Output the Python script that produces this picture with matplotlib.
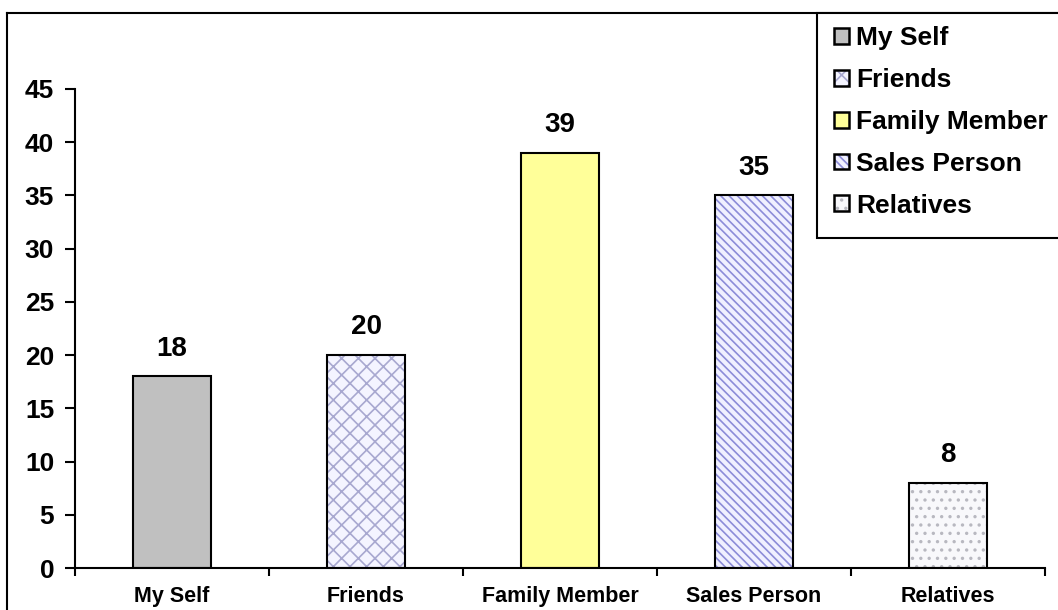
import matplotlib.pyplot as plt
from matplotlib.patches import Patch, Rectangle
from matplotlib.lines import Line2D

plt.rcParams['font.family'] = ['Liberation Sans', 'DejaVu Sans']
plt.rcParams['font.weight'] = 'bold'
plt.rcParams['hatch.linewidth'] = 1.2

# data
categories = ['My Self', 'Friends', 'Family Member', 'Sales Person', 'Relatives']
values = [18, 20, 39, 35, 8]
yticks = [0, 5, 10, 15, 20, 25, 30, 35, 40, 45]

# styles per bar
faces = ['#c0c0c0', '#f4f4ff', '#ffff99', '#f0f0ff', '#f8f8fb']
hatches = [None, 'xx', None, '\\\\\\\\', '..']
hatch_cols = ['#c0c0c0', '#a8a8d0', '#ffff99', '#8c8cd8', '#b8b8c0']

fig = plt.figure(figsize=(10.58, 6.10), dpi=100)
ax = fig.add_axes([75 / 1058, 1 - 568 / 610, 970 / 1058, 479 / 610])

x = list(range(len(categories)))
for i in x:
    ax.bar(i, values[i], width=0.4, color=faces[i], hatch=hatches[i],
           edgecolor=hatch_cols[i], linewidth=0, zorder=2)
ax.bar(x, values, width=0.4, fill=False, edgecolor='black', linewidth=1.5, zorder=3)

for i in x:
    ax.annotate(str(values[i]), (i, values[i]), xytext=(0, 15), textcoords='offset points',
                ha='center', va='baseline', fontsize=20, fontweight='bold')

ax.set_xlim(-0.5, len(categories) - 0.5)
ax.set_ylim(0, 45)
ax.set_yticks(yticks)
ax.tick_params(axis='y', direction='out', length=7, width=1.5, labelsize=19, pad=8)

# category boundaries as major ticks, labels on minor ticks
ax.set_xticks([i - 0.5 for i in range(len(categories) + 1)])
ax.set_xticklabels([])
ax.set_xticks(x, minor=True)
ax.set_xticklabels(categories, minor=True, fontsize=15.5, fontweight='bold')
ax.tick_params(axis='x', which='major', direction='out', length=6, width=1.5)
ax.tick_params(axis='x', which='minor', length=0, pad=13)

for s in ['top', 'right']:
    ax.spines[s].set_visible(False)
for s in ['left', 'bottom']:
    ax.spines[s].set_linewidth(1.5)

# outer chart border (left and top visible)
fig.add_artist(Line2D([7 / 1058, 7 / 1058], [0, 1 - 13 / 610], transform=fig.transFigure,
                      color='black', linewidth=1.5))
fig.add_artist(Line2D([7 / 1058, 1], [1 - 13 / 610, 1 - 13 / 610], transform=fig.transFigure,
                      color='black', linewidth=1.5))

# legend box
fig.add_artist(Rectangle((817 / 1058, 1 - 238 / 610), 0.5, 225 / 610, transform=fig.transFigure,
                         fill=True, facecolor='white', edgecolor='black', linewidth=1.5, zorder=5))
handles = []
for i in x:
    handles.append((Patch(facecolor=faces[i], hatch=hatches[i], edgecolor=hatch_cols[i], linewidth=0),
                    Patch(fill=False, edgecolor='black', linewidth=1.8)))
leg = fig.legend(handles, categories, loc='upper left', bbox_to_anchor=(834 / 1058, 1 - 26 / 610),
                 frameon=False, prop={'size': 19, 'weight': 'bold'}, handlelength=0.55,
                 handleheight=0.55, handletextpad=0.3, labelspacing=0.68, borderaxespad=0,
                 borderpad=0)
leg.set_zorder(6)

fig.savefig('out.png', dpi=100)
